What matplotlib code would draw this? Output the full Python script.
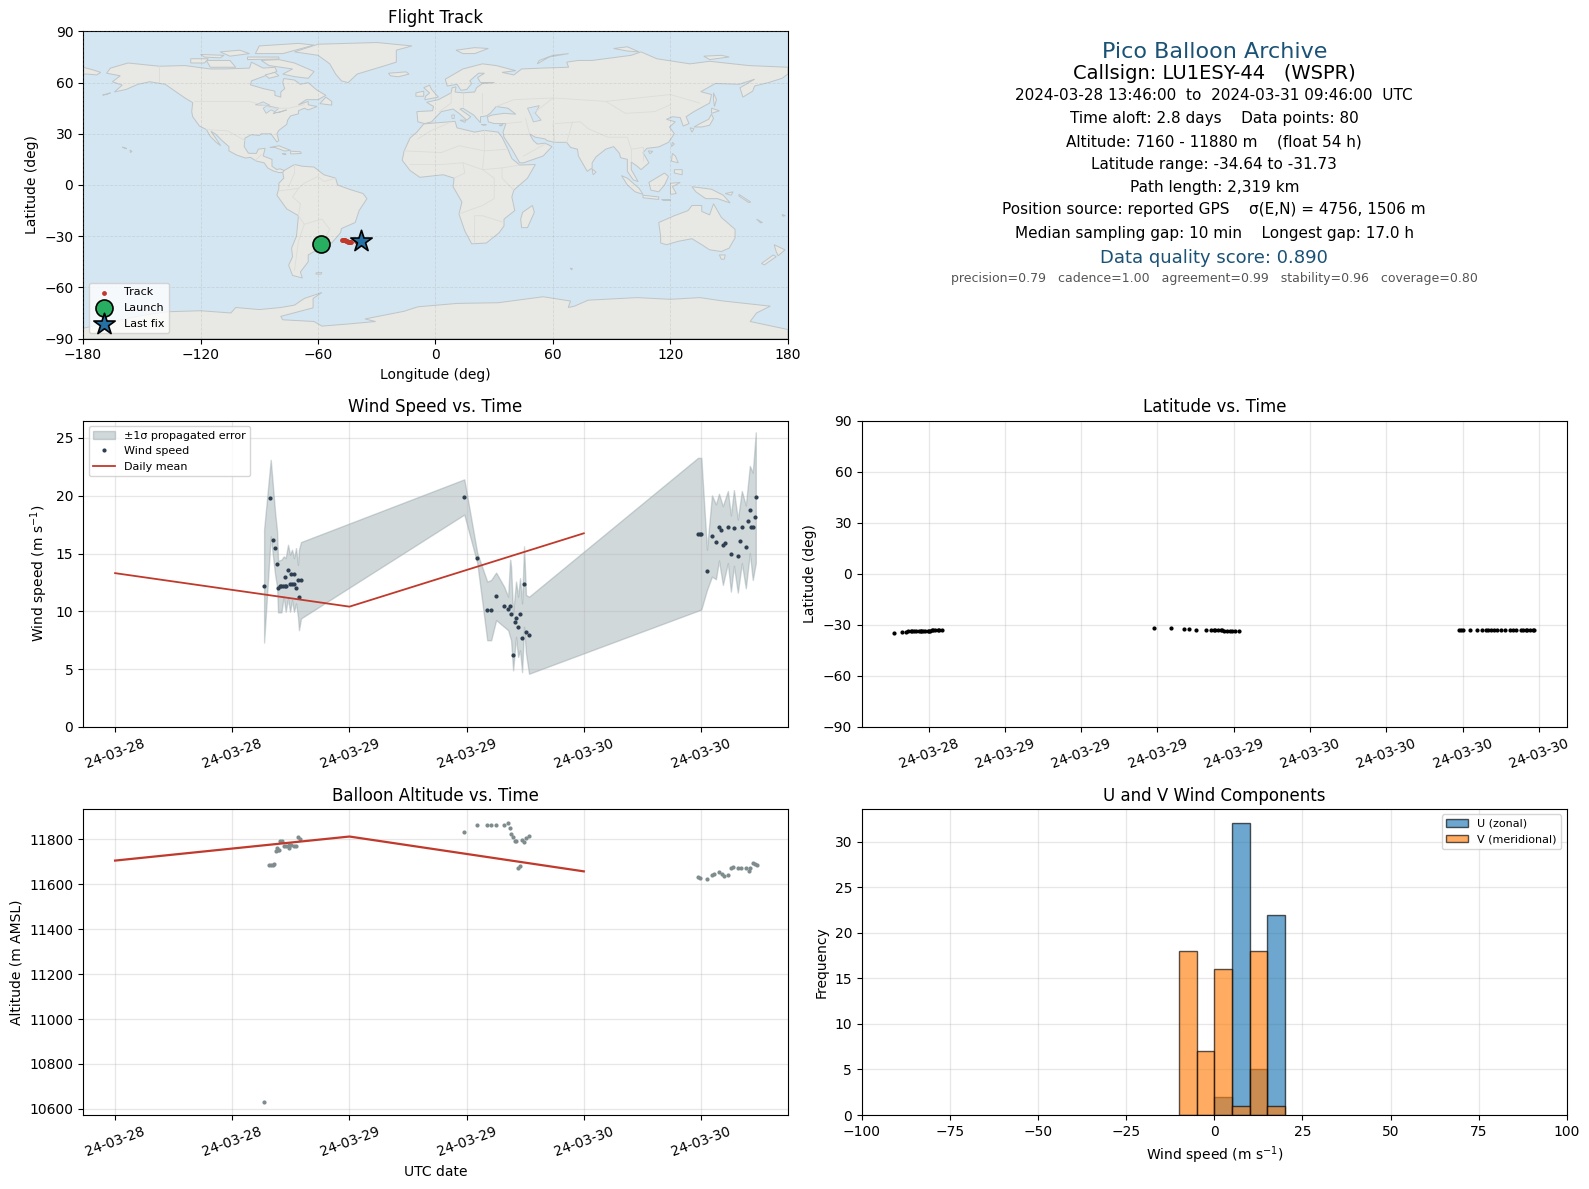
# -*- coding: utf-8 -*-
"""Pico balloon flight summary page: map, stats text, wind, latitude, altitude, components."""

from datetime import datetime, timedelta

import matplotlib
matplotlib.use("Agg")
import matplotlib.dates as mdates
import matplotlib.pyplot as plt
from matplotlib.patches import Polygon

# ---- data ----
START = datetime(2024, 3, 28)

wind_hours = [15.26, 15.88, 16.18, 16.39, 16.59, 16.69, 16.86, 17.03, 17.2, 17.37, 17.54, 17.41, 17.71,
              17.92, 18.12, 18.29, 18.02, 18.32, 18.53, 18.73, 19.04, 18.83,
              35.76, 37.09, 38.11, 38.51, 39.02, 39.84, 40.25, 40.45, 40.55, 41.06, 40.96, 41.27,
              41.47, 40.76, 41.68, 41.88, 42.08, 42.39,
              59.69, 59.86, 60.03, 60.61, 61.12, 61.53, 61.84, 62.04, 62.24, 62.45, 62.75, 63.06,
              63.37, 63.77, 63.98, 64.18, 64.59, 64.79, 65.0, 65.1, 65.3, 65.51, 65.61]
wind_speed = [12.16, 19.83, 16.17, 15.47, 14.08, 11.99, 12.16, 12.16, 12.16, 12.16, 12.16, 12.95, 13.56,
              12.34, 12.34, 12.34, 13.21, 13.21, 11.99, 12.69, 12.69, 11.2,
              19.91, 14.6, 10.07, 10.07, 11.29, 10.42, 10.16, 10.42, 9.72, 9.38, 9.03, 8.68,
              9.72, 6.24, 7.72, 12.34, 8.24, 7.98,
              16.69, 16.69, 16.69, 13.47, 16.52, 16.0, 17.3, 17.04, 15.73, 15.91, 17.3, 14.95,
              17.21, 14.78, 16.08, 17.3, 15.56, 17.82, 18.78, 17.3, 17.3, 18.17, 19.91]
wind_lat = [-34.6, -34.2, -34.0, -33.9, -33.9, -33.9, -33.9, -33.8, -33.8, -33.8, -33.7, -33.8, -33.7,
            -33.5, -33.4, -33.3, -33.5, -33.3, -33.3, -33.2, -32.9, -33.1,
            -32.0, -32.0, -32.3, -32.7, -32.8, -32.9, -32.9, -33.0, -33.1, -33.3, -33.2, -33.4,
            -33.4, -33.1, -33.4, -33.5, -33.5, -33.6,
            -33.0, -33.0, -33.0, -33.0, -33.0, -33.0, -33.0, -33.0, -33.0, -33.0, -33.0, -33.0,
            -33.0, -33.0, -33.0, -33.0, -33.0, -33.0, -33.0, -33.0, -33.0, -33.0, -33.0]

band_hours = [15.26, 15.94, 16.39, 16.59, 16.69, 17.03, 17.27, 17.47, 17.71, 17.92, 18.12, 18.32, 18.53,
              18.73, 18.83, 19.04, 35.76, 37.09, 38.11, 38.51, 39.02, 39.84, 40.25, 40.45, 40.55,
              40.76, 41.06, 41.27, 41.47, 41.68, 41.88, 42.08, 42.39,
              59.69, 60.03, 60.61, 61.12, 61.53, 61.84, 62.24, 62.75, 63.06, 63.37, 63.77, 64.18,
              64.59, 65.0, 65.3, 65.61]
band_upper = [17.07, 23.11, 18.52, 16.92, 14.37, 14.46, 14.75, 14.6, 15.76, 14.89, 15.33, 14.6, 15.47,
              14.02, 15.33, 15.99, 21.42, 15.04, 12.57, 12.71, 13.35, 12.13, 11.26, 14.46, 13.88,
              9.81, 12.57, 11.26, 12.86, 10.68, 15.62, 11.41, 11.26,
              23.28, 23.28, 15.33, 20.03, 19.25, 20.17, 19.1, 20.41, 18.29, 20.49, 17.94, 20.41,
              19.16, 22.58, 22.0, 25.49]
band_lower = [7.29, 16.49, 13.15, 12.13, 9.9, 9.9, 11.26, 9.96, 11.12, 9.96, 10.97, 9.96, 10.68,
              9.52, 8.36, 9.38, 18.37, 14.17, 7.49, 7.49, 9.23, 8.65, 8.36, 7.78, 7.49,
              4.88, 7.78, 6.04, 6.62, 4.73, 8.65, 6.33, 4.59,
              10.04, 10.16, 11.84, 13.0, 12.77, 14.4, 12.28, 14.17, 11.7, 13.93, 11.61, 14.17,
              11.99, 15.04, 12.71, 14.17]

alt_hours = [15.26, 15.73, 15.93, 16.14, 16.31, 16.48, 16.68, 16.82, 16.58, 16.92, 17.09, 17.33, 17.54,
             17.78, 17.85, 18.05, 18.29, 18.53, 18.74, 18.91,
             35.76, 37.09, 38.12, 38.53, 39.04, 39.86, 40.27, 40.48, 40.58, 40.79, 40.99, 41.09,
             41.71, 41.91, 42.12, 42.43, 41.3, 41.5,
             59.66, 59.9, 60.58, 61.09, 61.37, 61.88, 62.15, 62.39, 62.74, 63.04, 63.25, 63.76,
             64.1, 64.62, 64.96, 65.06, 65.3, 65.57, 65.71]
alt_m = [10632, 11685, 11685, 11686, 11692, 11748, 11751, 11751, 11763, 11790, 11793, 11769, 11770,
         11773, 11760, 11773, 11770, 11770, 11810, 11803,
         11831, 11862, 11862, 11862, 11862, 11862, 11872, 11849, 11822, 11810, 11793, 11791,
         11796, 11787, 11804, 11815, 11672, 11680,
         11634, 11627, 11621, 11640, 11644, 11655, 11647, 11637, 11643, 11670, 11677, 11671,
         11671, 11670, 11659, 11671, 11696, 11689, 11686]

mean_hours = [0, 24, 48]
mean_wind = [13.3, 10.4, 16.75]
mean_alt = [11705, 11812, 11657]

track_lon = [-47.5, -47, -46.5, -46, -45.5, -45, -44.6, -44.2, -43.8, -43.4, -40.5, -40, -39.5, -39]
track_lat = [-32.0, -32.2, -32.4, -32.5, -32.8, -33.0, -33.2, -33.4, -33.6, -33.5, -33.0, -33.2, -33.4, -33.2]
launch = (-58.4, -34.64)
last_fix = (-37.8, -33.0)

bin_edges = [-10, -5, 0, 5, 10, 15, 20]
u_counts = [0, 0, 2, 32, 5, 22]
v_counts = [18, 7, 16, 1, 18, 1]

info_lines = [
    ("Pico Balloon Archive", 16, "#1a5276", 51),
    ("Callsign: LU1ESY-44   (WSPR)", 14, "black", 73),
    ("2024-03-28 13:46:00  to  2024-03-31 09:46:00  UTC", 11, "black", 94),
    ("Time aloft: 2.8 days    Data points: 80", 11, "black", 117),
    ("Altitude: 7160 - 11880 m    (float 54 h)", 11, "black", 140),
    ("Latitude range: -34.64 to -31.73", 11, "black", 162),
    ("Path length: 2,319 km", 11, "black", 185),
    ("Position source: reported GPS    \u03c3(E,N) = 4756, 1506 m", 11, "black", 207),
    ("Median sampling gap: 10 min    Longest gap: 17.0 h", 11, "black", 230),
    ("Data quality score: 0.890", 13, "#1a5276", 255),
    ("precision=0.79   cadence=1.00   agreement=0.99   stability=0.96   coverage=0.80", 9, "#555555", 275),
]

# rough coastlines, lon/lat
land = [
    # North America
    [(-168,65.5),(-166,68.5),(-157,71.5),(-141,69.6),(-128,70),(-115,68),(-108,68),(-95,68.5),(-94,72),(-88,68.5),
     (-82,69),(-81,66.5),(-87,64),(-94,61),(-94.5,58.7),(-88,56.5),(-82,55),(-82,52.5),(-79,51.5),(-79,54.5),
     (-77,56.5),(-78,60),(-77.5,62.4),(-72,61.5),(-69,59),(-65,60),(-61,56),(-56,52.5),(-60,50),(-66,50),(-70,47),
     (-65,49),(-65,47),(-60.5,46),(-65,44),(-67,45),(-70,43.5),(-70,41.7),(-74,40.5),(-75.5,38),(-76,35.5),(-80,32),
     (-81,30),(-80,26),(-81,25.2),(-82.8,28),(-84,30),(-89,30),(-90,29),(-94,29.5),(-97.3,27.5),(-97.7,22.5),
     (-95.5,18.6),(-91.5,18.5),(-90.5,21),(-87,21.5),(-88,17),(-83.5,15),(-83.5,11),(-81,9),(-79.5,9.5),(-77.3,8.5),
     (-78,7.3),(-80,7.3),(-83,8.3),(-85.7,10),(-87.5,13),(-91.5,14),(-94.5,16.2),(-97,15.8),(-101.5,17.5),(-105.5,20),
     (-105.5,22.5),(-109,26),(-112.5,30),(-114.7,31.5),(-112,27),(-109.7,23),(-112,25),(-115,28.5),(-117,32.5),
     (-120.5,34.5),(-124,40),(-124.5,43),(-124,48.3),(-128,51),(-133,55),(-138,59),(-146,60.5),(-152,59),(-158,56),
     (-164,54.5),(-160,58.5),(-165,60.5),(-161,64)],
    [(-180,69),(-175,67.5),(-171,66),(-173,64.5),(-178,65),(-180,65)],
    [(-166,54),(-170,52.7),(-168,53)],
    # arctic islands
    [(-80,73.5),(-72,71.5),(-62,66.5),(-65,62.5),(-72,63.5),(-78,65),(-73,68),(-85,70),(-89,73)],
    [(-117,73),(-105,73),(-102,69),(-115,69)],
    [(-125,74),(-116,74),(-118,71.5),(-125,71.5)],
    [(-92,77),(-78,77),(-62,82),(-70,83),(-90,81.5)],
    [(-96,75),(-80,75),(-80,73.8),(-96,73.5)],
    [(-110,78),(-100,79),(-95,77),(-105,75.5)],
    [(-120,76.5),(-108,76),(-110,74.5),(-118,75)],
    [(-82,66),(-80,64),(-85,62.5),(-87,64.5)],
    # Greenland, Iceland, Newfoundland
    [(-72,78),(-60,76),(-54,71),(-51,65),(-48,61),(-44.6,60),(-40,65),(-27,69.5),(-20,72),(-20,79),(-12,81.5),(-30,83.5),(-60,82.5)],
    [(-24,65.5),(-15,66.3),(-13.5,65),(-19,63.4),(-23,64)],
    [(-59,47.7),(-53,46.8),(-53,49),(-56,51.5)],
    # Caribbean, Hawaii
    [(-84.6,22),(-80,23),(-74,20.3),(-77,19.9),(-82,22)],
    [(-74,19.8),(-69,19.5),(-68.5,18.5),(-74,18.2)],
    [(-78.3,18.4),(-76.3,18.2),(-77,17.8)],
    [(-156,20.5),(-155,19.7),(-155.8,19)],
    [(-160,22.2),(-157.8,21.5),(-158,21.2)],
    # South America
    [(-77.3,8.5),(-72,12),(-68,11),(-62,10.5),(-57,6),(-51,4),(-50,0),(-44,-2.5),(-37,-5),(-35,-8),(-39,-15),(-41,-22),
     (-48,-25.5),(-48.5,-28),(-53,-34),(-58,-34.5),(-57,-38),(-62,-39),(-65,-41),(-65,-45),(-69,-51),(-68,-54.5),
     (-73,-53),(-75,-47),(-73,-42),(-73.5,-37),(-71,-30),(-70,-18),(-76,-14),(-81,-6),(-80,-2),(-80,1),(-77.5,4),(-78,7.3)],
    [(-61,-51.5),(-58,-51.3),(-58.5,-52.3),(-61,-52.2)],
    # Africa, Madagascar
    [(-6,35.8),(10,37.3),(11,33.5),(20,31),(25,32),(32,31),(34,28),(37,21),(39,15.5),(43,11.7),(51,12),(47,4),(40,-3),
     (39,-7),(40.5,-15),(35,-20),(35,-24),(32.5,-28),(26,-34),(18.5,-34.5),(15,-27),(12,-17),(13.5,-10),(9,-1),(9.5,4),
     (4,6),(-4,5),(-8,4.5),(-13,8.5),(-17,14.5),(-16,20),(-13,27.5),(-9.5,31)],
    [(49.5,-12),(50.5,-16),(47,-25),(44,-25),(43.5,-20),(44.5,-16)],
    # Eurasia
    [(-9,37),(-9.5,43),(-1.5,43.5),(-1,46),(-4.5,48.5),(1.5,50),(8,54),(8.5,57),(10.5,57.5),(10,54.5),(14,54),(20,54.5),
     (21,57),(24,59.5),(30,60),(23,60),(21.5,63),(25,65.5),(22,65.5),(17.5,61),(18.5,59.5),(16,56),(13,55.5),(11,59),
     (6,58),(5,62),(14,68),(24,71),(31,70),(41,67),(34,66),(40,64.5),(44,68),(54,68.5),(68,69),(67,72),(73,73),(80,73),
     (100,76),(105,78),(113,74),(130,71),(140,72.5),(160,70),(180,69),(180,65),(177,62.5),(170,60),(163,58),(162,55),
     (157,51.5),(155.5,57),(163,62),(155,59),(143,59.5),(135.5,54.7),(141,53),(140,48),(132,43),(128,40),(129.5,36),
     (126.5,34.5),(125,39.5),(121,40),(118,38.5),(122.5,37),(119.5,34),(122,30),(119,25),(114,22.3),(108,21.5),(106,19),
     (109,13),(105,9),(103,11),(100,13.5),(100,9),(103.5,2),(101,3),(98,8),(98,15),(94.5,16),(94,18.5),(91,22.5),(87,21),
     (82,16.5),(80,13),(80,10),(77.5,8),(73,17),(72.5,21),(69,22),(67,25),(61,25),(57,26),(56,27),(51,28),(48,30),(50,26),
     (52,24),(56,24.5),(59.5,22.5),(55,17),(45,13),(43,13),(39,21),(35,28),(34.5,31),(36,36),(30,36),(27,37),(26.5,40),
     (29,41),(35,42),(41,41.5),(37,45),(31,46),(28,42),(26,40.5),(23,40),(23,36.5),(19.5,41),(14,45),(12.5,44.5),(18,40),
     (16,38),(12,42),(9,44.5),(3,43),(0,39.5),(-2,37),(-5.5,36)],
    # Europe and Asia islands
    [(-5.5,50),(1.5,51.5),(-2,56),(-3,58.5),(-6,57),(-3,54),(-5,52)],
    [(-10,52),(-6,52),(-6,55),(-10,54)],
    [(10.5,79),(20,80.5),(27,80),(20,77),(14,77)],
    [(52,71),(58,75),(68,77),(60,76),(53,73)],
    [(91,80),(98,81),(104,78),(98,78.5)],
    [(137,75.5),(146,76),(150,75),(140,73.5)],
    [(142,54),(143.5,50),(142.5,46),(142,50)],
    [(141,41.5),(142,39),(140,35),(136,34),(132,34),(136,36.5),(139.5,38.5)],
    [(141,45),(145,43.5),(141,42)],
    [(130,33.5),(132,33),(131,31)],
    [(121,25),(122,24),(120.5,22.5)],
    [(108.7,20),(111,19.7),(109.5,18.3)],
    [(80,9.5),(82,7.5),(80.5,6)],
    [(12.5,38),(15.5,38),(15,36.7)],
    [(8.3,41),(9.7,41),(9.5,39),(8.5,39)],
    [(23.5,35.5),(26,35.3),(24.5,35)],
    [(32.5,35),(34.5,35.5),(33.5,34.6)],
    [(95,5.5),(98,4),(104,-2),(106,-5.5),(102,-4),(98,0)],
    [(106,-6),(114,-7),(114,-8.5),(106,-7.5)],
    [(115,-8.3),(120,-8.3),(120,-9),(116,-9)],
    [(109,1.5),(117,7),(119,5),(117,0),(114,-4),(110,-3)],
    [(120,1),(125,1.5),(121,-1),(123,-5),(120,-5.5)],
    [(121,18.5),(122.5,17),(124,13),(120.5,14)],
    [(122,9),(126,9),(126,6),(122,7)],
    [(131,-1),(141,-2.5),(147,-6),(150.5,-10.5),(144,-8),(138,-8),(133,-4)],
    [(148,-5),(152,-4),(151,-6)],
    [(155,-5.5),(161,-10),(160,-10.3),(155,-6.5)],
    [(164,-20),(167,-22),(166,-22.2)],
    [(177,-17.3),(178.7,-18),(177.5,-18.3)],
    [(68.8,-48.8),(70,-49),(69.5,-49.7)],
    # Australia, New Zealand
    [(114,-22),(122,-18),(129,-15),(131,-12),(136,-12),(136,-15.5),(140,-17.5),(142,-11),(146,-19),(153,-26),(153,-31),
     (150,-37),(146,-39),(140,-38),(136,-35),(131,-31.5),(124,-33),(118,-35),(115,-34),(115,-30)],
    [(145,-41),(148,-41),(147.5,-43.5),(146,-43.5)],
    [(173,-35),(178.5,-38),(175,-41.5),(174,-39)],
    [(172.5,-41),(174,-42),(168,-46.8),(166.5,-46)],
    # Antarctica
    [(-180,-84),(-165,-80),(-150,-76.5),(-137,-74.3),(-120,-73.7),(-104.5,-75),(-102,-71.8),(-90,-73),(-79,-71.8),
     (-72,-70.4),(-67,-66.5),(-58,-63),(-62.5,-66.5),(-62.5,-72),(-79,-77),(-78,-79),(-62,-80),(-58,-82.7),(-45,-81.5),
     (-30.6,-80),(-36,-78.5),(-16,-74),(-9,-71.4),(11,-69.4),(32,-69),(55,-65.5),(69,-68),(67.8,-71.8),(71,-71),(78,-67.5),
     (103,-66),(120,-67),(135,-66),(147,-68),(171,-71),(164,-75),(160.7,-80),(180,-84.7),(180,-90),(-180,-90)],
]
inland_water = [
    [(47,45),(53,46.5),(51,42),(54,38),(50,37),(49,40)],
    [(-92,47),(-88,48.7),(-84.5,46.7),(-88,46.7)],
    [(-88,45),(-86.5,46),(-84,46),(-80,45),(-82,43),(-84,44),(-86.5,42)],
    [(-83,42),(-79,43),(-76,44),(-79,42.8)],
]
borders = [
    [(-141,69.6),(-141,60.3)], [(-123,49),(-95,49),(-83,45),(-75,45),(-67,47)],
    [(-117,32.5),(-106,31.7),(-97.3,26)], [(-92,14.5),(-89,17.8)],
    [(-70,-18),(-69,-11),(-73,-7),(-70,-2),(-67,1),(-60,5),(-57,2),(-51,4)],
    [(-70,-18),(-67,-23),(-70,-33),(-72,-50)], [(-67,-23),(-58,-20),(-54,-26),(-58,-34.5)],
    [(-75,-1),(-72,7),(-72,12)], [(-80,-3.5),(-70,-2)],
    [(-9,27),(-2,32),(8,37)], [(25,32),(25,20),(24,9),(30,4),(30,-8),(24,-12),(12,-17)],
    [(-16,20),(3,19),(12,23),(25,20),(37,21)], [(-13,12),(3,12),(14,13),(24,9),(34,10),(43,11.7)],
    [(9.5,4),(15,7),(14,13)], [(34,10),(34,4),(40,-3)], [(20,-34),(20,-18),(24,-18),(35,-22)],
    [(2,43),(8,48),(8,54)], [(14,54),(14,46)], [(24,54),(24,42)], [(31,46),(40,50),(60,51),(87,49),(120,53),(135,48)],
    [(87,49),(97,42),(112,43),(120,47)], [(48,30),(46,39)], [(44,37),(36,36)], [(60,36),(61,25)],
    [(61,36),(74,37),(78,33),(88,28),(98,28),(100,21),(106,22)],
    [(70,37),(67,25)], [(60,51),(50,42)], [(35,30),(48,30)], [(45,17),(56,24)], [(100,21),(100,14)], [(106,22),(106,14)],
]

# ---- layout, in reference pixels ----
W, H = 1569.0, 1173.0
SEA = "#d4e6f1"
LAND = "#e8e8e4"
COAST = "#bfc5c7"


def box(x0, y0, x1, y1):
    return [x0 / W, 1 - y1 / H, (x1 - x0) / W, (y1 - y0) / H]


def to_dates(hours):
    return [START + timedelta(hours=h) for h in hours]


def style_time_axis(ax, interval):
    ax.xaxis.set_major_locator(mdates.HourLocator(byhour=range(0, 24, interval)))
    ax.xaxis.set_major_formatter(mdates.DateFormatter("%y-%m-%d"))
    ax.tick_params(axis="x", labelrotation=20)
    ax.grid(True, color="#b0b0b0", alpha=0.3, linewidth=0.9)


fig = plt.figure(figsize=(15.89, 11.89), dpi=100)

# map
ax_map = fig.add_axes(box(82, 31, 778, 334))
ax_map.set_facecolor(SEA)
for poly in land:
    ax_map.add_patch(Polygon(poly, closed=True, facecolor=LAND, edgecolor=COAST, linewidth=0.7, zorder=1))
for poly in inland_water:
    ax_map.add_patch(Polygon(poly, closed=True, facecolor=SEA, edgecolor=COAST, linewidth=0.6, zorder=1.1))
for line in borders:
    ax_map.plot([p[0] for p in line], [p[1] for p in line], color="#dcdcd8", linewidth=0.6, zorder=1.2)
ax_map.scatter(track_lon, track_lat, s=6, color="#c0392b", zorder=3, label="Track")
ax_map.scatter(*launch, s=150, color="#27ae60", edgecolor="black", linewidth=1.2, zorder=4, label="Launch")
ax_map.scatter(*last_fix, s=260, marker="*", color="#2471a3", edgecolor="black", linewidth=1.2, zorder=5, label="Last fix")
ax_map.set_xlim(-180, 180)
ax_map.set_ylim(-90, 90)
ax_map.set_xticks(range(-180, 181, 60))
ax_map.set_yticks(range(-90, 91, 30))
ax_map.set_xticklabels(["\u2212180", "\u2212120", "\u221260", "0", "60", "120", "180"])
ax_map.grid(True, color="#8a8a8a", alpha=0.2, linewidth=0.6, linestyle="--", zorder=2)
ax_map.set_axisbelow(False)
ax_map.set_xlabel("Longitude (deg)")
ax_map.set_ylabel("Latitude (deg)")
ax_map.set_title("Flight Track", fontsize=12)
ax_map.legend(loc="lower left", fontsize=8)

# stats text
for text, size, color, y in info_lines:
    fig.text(1199 / W, 1 - y / H, text, fontsize=size, color=color, ha="center", va="center")

# wind speed
ax_wind = fig.add_axes(box(82, 415, 778, 717))
ax_wind.fill_between(to_dates(band_hours), band_lower, band_upper, color="#7c9095", alpha=0.35,
                     label="\u00b11\u03c3 propagated error")
ax_wind.plot(to_dates(wind_hours), wind_speed, ".", color="#2c3e50", markersize=4, label="Wind speed")
ax_wind.plot(to_dates(mean_hours), mean_wind, color="#c0392b", linewidth=1.3, label="Daily mean")
ax_wind.set_xlim(to_dates([-3.28])[0], to_dates([68.9])[0])
ax_wind.set_ylim(0, 26.5)
ax_wind.set_ylabel("Wind speed (m s$^{-1}$)")
ax_wind.set_title("Wind Speed vs. Time", fontsize=12)
ax_wind.legend(loc="upper left", fontsize=8)
style_time_axis(ax_wind, 12)

# latitude
ax_lat = fig.add_axes(box(851, 415, 1547, 717))
ax_lat.plot(to_dates(wind_hours), wind_lat, ".", color="black", markersize=4)
ax_lat.set_xlim(to_dates([12.74])[0], to_dates([68.2])[0])
ax_lat.set_ylim(-90, 90)
ax_lat.set_yticks(range(-90, 91, 30))
ax_lat.set_ylabel("Latitude (deg)")
ax_lat.set_title("Latitude vs. Time", fontsize=12)
style_time_axis(ax_lat, 6)

# altitude
ax_alt = fig.add_axes(box(82, 798, 778, 1100))
ax_alt.plot(to_dates(alt_hours), alt_m, ".", color="#7f8c8d", markersize=4)
ax_alt.plot(to_dates(mean_hours), mean_alt, color="#c0392b", linewidth=1.6)
ax_alt.set_xlim(to_dates([-3.28])[0], to_dates([68.9])[0])
ax_alt.set_ylim(10573, 11935)
ax_alt.set_xlabel("UTC date")
ax_alt.set_ylabel("Altitude (m AMSL)")
ax_alt.set_title("Balloon Altitude vs. Time", fontsize=12)
style_time_axis(ax_alt, 12)

# components
ax_hist = fig.add_axes(box(851, 798, 1547, 1100))
widths = [b - a for a, b in zip(bin_edges[:-1], bin_edges[1:])]
ax_hist.bar(bin_edges[:-1], u_counts, width=widths, align="edge", color="tab:blue", alpha=0.65,
            edgecolor="black", label="U (zonal)")
ax_hist.bar(bin_edges[:-1], v_counts, width=widths, align="edge", color="tab:orange", alpha=0.65,
            edgecolor="black", label="V (meridional)")
ax_hist.set_xlim(-100, 100)
ax_hist.set_ylim(0, 33.6)
ax_hist.set_xlabel("Wind speed (m s$^{-1}$)")
ax_hist.set_ylabel("Frequency")
ax_hist.set_title("U and V Wind Components", fontsize=12)
ax_hist.grid(True, color="#b0b0b0", alpha=0.3, linewidth=0.9)
ax_hist.set_axisbelow(True)
ax_hist.legend(loc="upper right", fontsize=8)

fig.savefig("out.png", dpi=100)
